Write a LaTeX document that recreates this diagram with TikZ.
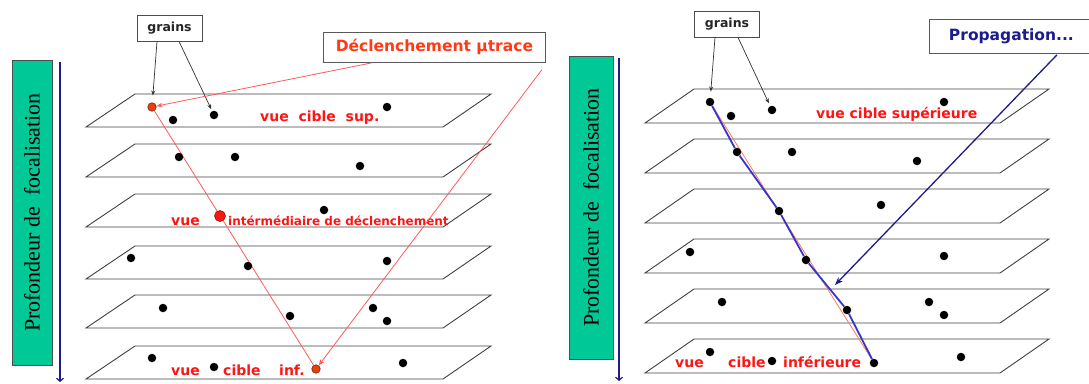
\documentclass[tikz,border=0pt]{standalone}
\usepackage{fontspec}
\setmainfont{Liberation Serif}
\setsansfont{DejaVu Sans}
\usepackage{tikz}
\usetikzlibrary{positioning, arrows.meta, calc}
\definecolor{focus-green}{HTML}{00C896}
\definecolor{focus-navy}{HTML}{1C1C8C}
\definecolor{trig-red}{HTML}{FF3A14}
\definecolor{label-red}{HTML}{FF1414}
\definecolor{line-red}{HTML}{FF5A5A}
\definecolor{hit-red}{HTML}{E8400E}
\definecolor{track-blue}{HTML}{3636CC}
\definecolor{fit-orange}{HTML}{FF7A5A}
\definecolor{plane-gray}{HTML}{404040}
\pgfdeclarelayer{back}
\pgfsetlayers{back,main}

\begin{document}
\begin{tikzpicture}[x=1pt, y=-1pt,
    plane/.style={draw=plane-gray, line width=0.9pt},
    dot/.style={circle, fill=black, inner sep=0pt, minimum size=8.5pt},
    hit/.style={circle, fill=hit-red, draw=hit-red!55!black, line width=0.6pt, inner sep=0pt, minimum size=8.5pt},
    bar/.style={draw=black!70, fill=focus-green, rotate=90, inner sep=0pt, font=\fontsize{22}{25}\selectfont},
    tag/.style={draw=black!70, fill=white, line width=0.8pt, inner sep=0pt, minimum width=65pt, minimum height=26pt,
        text=black!85, font=\sffamily\bfseries\fontsize{12.5}{14}\selectfont},
    callout/.style={draw=black!65, fill=white, line width=0.8pt, inner sep=0pt, anchor=north west,
        font=\sffamily\bfseries\fontsize{15.5}{18}\selectfont},
    lbl/.style={text=label-red, inner sep=0pt, anchor=base west, font=\sffamily\bfseries\fontsize{14}{16}\selectfont},
    pointer/.style={draw=black!80, line width=0.7pt, -{Stealth[length=5pt, width=4pt]}},
    trigline/.style={draw=line-red, line width=0.8pt, -{Stealth[length=6pt, width=4.5pt]}},
    deptharrow/.style={draw=focus-navy, line width=1.2pt, -{Straight Barb[length=3pt, width=7pt]}},
]
    \useasboundingbox (0,0) rectangle (1089,383);

    % Focal planes
    \begin{pgfonlayer}{back}
    \foreach \t in {94,144,194,246,295,346}
        \draw[plane] (135,\t) -- (491,\t) -- (443,\t+33) -- (86,\t+33) -- cycle;
    \foreach \t in {89,139,189,239,289,339}
        \draw[plane] (694,\t) -- (1049,\t) -- (1000,\t+34) -- (645,\t+34) -- cycle;
    \end{pgfonlayer}

    % Depth bars
    \node[bar, minimum width=305pt, minimum height=40pt] (depthL) at (32,212.5) {Profondeur de~~focalisation};
    \node[bar, minimum width=303pt, minimum height=44pt] (depthR) at (591,207.5) {Profondeur de~~focalisation};
    \coordinate (depthL-top) at (60,62);
    \coordinate (depthL-end) at (60,382);
    \coordinate (depthR-top) at (619,58);
    \coordinate (depthR-end) at (619,381);
    \draw[deptharrow] (depthL-top) -- (depthL-end);
    \draw[deptharrow] (depthR-top) -- (depthR-end);

    % Plane labels
    \node[lbl] (supL) at (260,121) {vue~~cible~~sup.};
    \node[lbl] (midL1) at (171,225) {vue};
    \node[lbl, font=\sffamily\bfseries\fontsize{12}{14}\selectfont] (midL2) at (228,225) {intérmédiaire de déclenchement};
    \node[lbl] (infL1) at (171,375) {vue};
    \node[lbl] (infL2) at (223,375) {cible};
    \node[lbl] (infL3) at (279,375) {inf.};

    \node[lbl] (supR) at (816,118) {vue cible supérieure};
    \node[lbl] (infR1) at (675,367) {vue};
    \node[lbl] (infR2) at (728,367) {cible};
    \node[lbl] (infR3) at (783,367) {inférieure};

    % Grains
    \foreach \n/\x/\y in {L1a/173/120, L1b/214/115, L1c/387/107,
                          L2a/179/157, L2b/235/157, L2c/360/166,
                          L3a/324/210,
                          L4a/131/258, L4b/248/266, L4c/387/261,
                          L5a/163/308, L5b/290/316, L5c/373/308, L5d/387/321,
                          L6a/152/358, L6b/214/367, L6c/403/363}
        \node[dot] (\n) at (\x,\y) {};
    \node[hit] (L1r) at (152,107) {};
    \node[hit, fill=label-red, minimum size=11pt] (L3r) at (220,216) {};
    \node[hit] (L6r) at (316,369) {};

    \foreach \n/\x/\y in {R1a/710/102, R1b/731/116, R1c/772/110, R1d/944/102,
                          R2a/737/152, R2b/792/152, R2c/917/161,
                          R3a/779/211, R3b/881/205,
                          R4a/690/252, R4b/806/260, R4c/944/256,
                          R5a/722/302, R5b/847/310, R5c/929/302, R5d/944/315,
                          R6a/710/352, R6b/772/361, R6c/874/363, R6d/961/357}
        \node[dot] (\n) at (\x,\y) {};

    % Tracks
    \begin{pgfonlayer}{back}
    \draw[draw=line-red, line width=0.8pt] (L1r) -- (L6r);
    \draw[draw=fit-orange, line width=0.8pt] (R1a) -- (R6c);
    \draw[draw=track-blue, line width=1.8pt] (R1a) -- (R2a) -- (R3a) -- (R4b) -- (R5b) -- (R6c);
    \end{pgfonlayer}

    % Callouts
    \node[tag] (grainsL) at (169.5,28) {grains};
    \node[tag] (grainsR) at (727,24) {grains};
    \node[callout, text=trig-red, minimum width=222pt, minimum height=30pt] (trigger) at (323,32) {Déclenchement µtrace};
    \node[callout, text=focus-navy, minimum width=164pt, minimum height=34pt] (propagation) at (929,19) {Propagation...};

    \draw[pointer, shorten >=7pt] ($(grainsL.south)+(-12.5,0)$) -- (L1r);
    \draw[pointer, shorten >=2pt] ($(grainsL.south)+(9.5,0)$) -- (L1b);
    \draw[pointer, shorten >=6pt] ($(grainsR.south)+(-12,0)$) -- (R1a);
    \draw[pointer, shorten >=3pt] ($(grainsR.south)+(11,0)$) -- (R1c);

    \draw[trigline] ($(trigger.south west)+(49,0)$) -- (L1r);
    \draw[trigline] ($(trigger.south east)+(-4,7)$) -- (L6r);

    \coordinate (propTip) at (835,285);
    \draw[draw=focus-navy, line width=1.3pt, -{Stealth[length=8pt, width=6pt]}] ($(propagation.south west)+(128,1)$) -- (propTip);
\end{tikzpicture}
\end{document}
